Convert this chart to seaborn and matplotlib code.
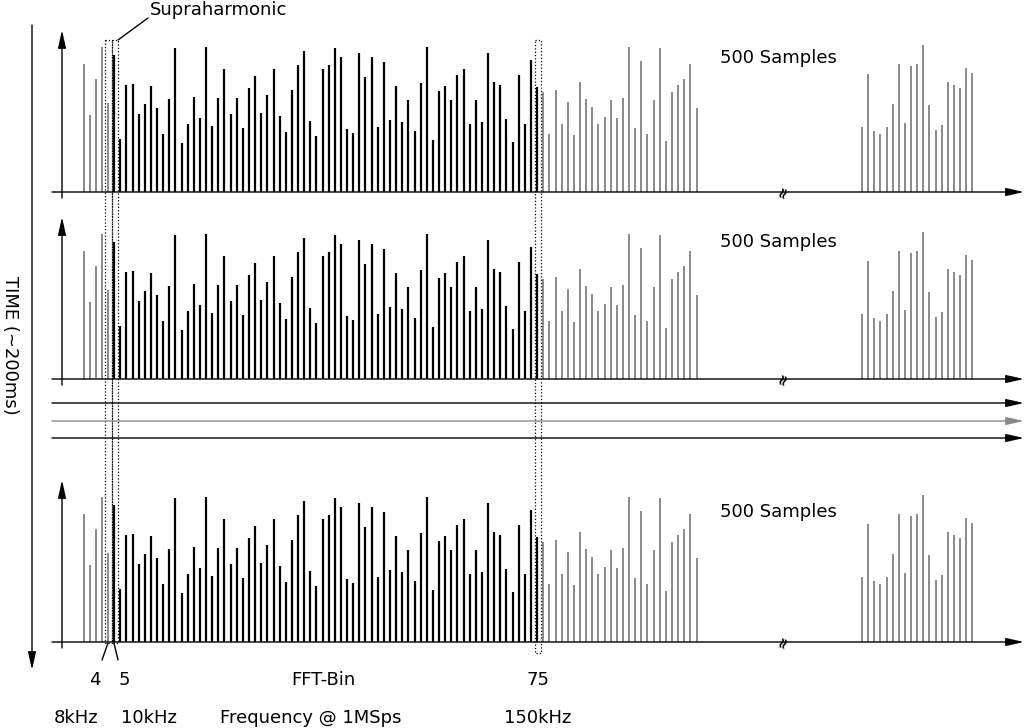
import matplotlib
matplotlib.use("Agg")
import matplotlib.pyplot as plt
import seaborn as sns
import numpy as np

sns.set_theme(style="white")
plt.rcParams['font.family'] = ['DejaVu Sans']
plt.rcParams['text.color'] = 'black'

# bar tops (relative units, baseline 488)
low_gray = [97, 253, 141, 43, 215]          # bins 0-4
black = [68, 325, 160, 158, 248, 218, 163, 231, 310, 202, 48, 337, 280, 198, 261, 43, 286, 201,
         112, 249, 201, 292, 168, 132, 246, 190, 111, 255, 303, 176, 98, 55, 270, 315, 110, 98,
         47, 74, 294, 308, 62, 135, 75, 290, 90, 267, 162, 274, 205, 300, 153, 45, 330, 180,
         163, 205, 131, 111, 280, 205, 275, 62, 152, 161, 263, 335, 131, 280, 83, 165]  # bins 5-74
mid_gray = [183, 310, 175, 280, 213, 313, 152, 202, 229, 279, 259, 207, 260, 199, 45, 292, 88,
            310, 207, 47, 331, 181, 161, 143, 97, 230]   # bins 75-100
high_gray = [290, 127, 300, 310, 290, 219, 95, 276, 102, 97, 37, 221, 299, 282, 151, 161, 170,
             108, 123]  # bins 127-145
BASE = 488
panel_baselines = [192, 379, 642]
panel_labels = ["500 Samples"] * 3

W, H = 1024, 728
fig = plt.figure(figsize=(W / 100, H / 100), dpi=100)
GRAY = "#8a8a8a"
x0, dx = 83.5, 6.13

for base, lab in zip(panel_baselines, panel_labels):
    ax = fig.add_axes([0, 1 - base / H, 1, 160 / H])
    ax.set_xlim(-x0 / dx, (W - x0) / dx)
    ax.set_ylim(0, 451 * 163 / 150)
    ax.axis("off")
    def draw(start, tops, color, lw):
        xs = np.arange(start, start + len(tops))
        ax.vlines(xs, 0, BASE - np.array(tops), color=color, lw=lw)
    draw(0, low_gray, GRAY, 1.4)
    draw(5, black, "black", 1.6)
    draw(75, mid_gray, GRAY, 1.4)
    draw(127, high_gray, GRAY, 1.4)

ov = fig.add_axes([0, 0, 1, 1], zorder=5)
ov.set_xlim(0, W); ov.set_ylim(H, 0); ov.axis("off"); ov.patch.set_alpha(0)
arr = dict(arrowstyle="-|>,head_length=0.9,head_width=0.2", color="black", lw=1, shrinkA=0, shrinkB=0)
for base in panel_baselines:
    ov.annotate("", xy=(1024, base), xytext=(52, base), arrowprops=arr)
    ov.annotate("", xy=(62, base - 162), xytext=(62, base + 6), arrowprops=arr)
    ov.text(783, base, "≈", rotation=70, ha="center", va="center", fontsize=11, fontweight="bold")
for y, c in [(403, "black"), (421, GRAY), (438, "black")]:
    ov.annotate("", xy=(1024, y), xytext=(52, y), arrowprops=dict(arr, color=c))
ov.annotate("", xy=(32, 670), xytext=(32, 25), arrowprops=arr)
ov.text(10, 345, "TIME (~200ms)", rotation=-90, ha="center", va="center", fontsize=13)
for y in [58, 242, 512]:
    ov.text(778, y, "500 Samples", ha="center", va="center", fontsize=13)
# dotted boxes
for (xa, xb) in [(104.5, 111.5), (111.5, 118)]:
    ov.add_patch(plt.Rectangle((xa, 40), xb - xa, 603, fill=False, ls=":", lw=0.9, ec="black"))
ov.add_patch(plt.Rectangle((535, 40), 6, 613, fill=False, ls=":", lw=0.9, ec="black"))
ov.plot([118, 148], [40, 18], color="black", lw=1)
ov.text(150, 10, "Supraharmonic", ha="left", va="center", fontsize=13)
ov.plot([108, 102], [643, 660], color="black", lw=1)
ov.plot([114, 118], [643, 660], color="black", lw=1)
for x, y, t in [(95, 680, "4"), (124, 680, "5"), (323, 680, "FFT-Bin"), (538, 680, "75"),
                (76, 718, "8kHz"), (149, 718, "10kHz"), (311, 718, "Frequency @ 1MSps"),
                (538, 718, "150kHz")]:
    ov.text(x, y, t, ha="center", va="center", fontsize=13)

fig.savefig("out.png", dpi=100)
